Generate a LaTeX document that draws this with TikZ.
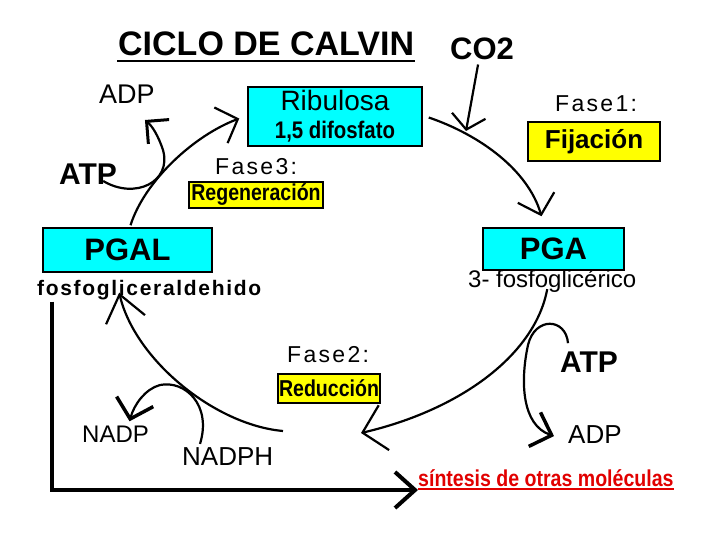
\documentclass[tikz,border=0pt]{standalone}
\usepackage{xcolor}
\usepackage{fontspec}
\setmainfont{Liberation Sans}
\newfontfamily\widefont[LetterSpace=10]{Liberation Sans}
\newfontfamily\spacedfont[LetterSpace=8]{Liberation Sans}
\newfontfamily\narrowfont[FakeStretch=0.85]{Liberation Sans}
\usepackage{tikz}
\usetikzlibrary{positioning,arrows.meta,calc}

\definecolor{boxcyan}{RGB}{0,255,255}
\definecolor{boxyellow}{RGB}{255,255,0}
\definecolor{redtext}{RGB}{225,0,0}

\begin{document}
\begin{tikzpicture}[
x=1pt, y=-1pt,
>={Straight Barb[length=18pt,width=38pt]},
cbox/.style={
draw,
line width=1.5pt,
fill=boxcyan,
inner sep=0pt,
align=center
},
ybox/.style={
draw,
line width=1.2pt,
fill=boxyellow,
inner sep=0pt,
align=center
},
txt/.style={
inner sep=0pt,
anchor=base west
},
ring/.style={
->,
line width=2.2pt
},
sidearc/.style={
->,
line width=2.2pt
}
]

\useasboundingbox (0,0) rectangle (720,540);

%%%%%%%%%%%%%%%%%%%%%%%%%%%%%%%%%%%%%%%%%%%%%
% Title
%%%%%%%%%%%%%%%%%%%%%%%%%%%%%%%%%%%%%%%%%%%%%

\node[txt, font=\fontsize{34}{38}\selectfont\bfseries] (title) at (118,56)
{CICLO DE CALVIN};

\draw[line width=2.5pt] ($(title.base west)+(-1,5)$) -- ($(title.base east)+(1,5)$);

\node[txt, font=\fontsize{31}{36}\selectfont\bfseries] (co2) at (450,60)
{CO2};

%%%%%%%%%%%%%%%%%%%%%%%%%%%%%%%%%%%%%%%%%%%%%
% Main Boxes
%%%%%%%%%%%%%%%%%%%%%%%%%%%%%%%%%%%%%%%%%%%%%

\node[cbox, minimum width=174pt, minimum height=59pt,
font=\narrowfont\fontsize{24}{28}\selectfont] (ribulosa) at (335,116.5)
{{\rmfamily\fontsize{28}{28}\selectfont Ribulosa}\\\textbf{1,5 difosfato}};

\node[cbox, minimum width=169pt, minimum height=44pt,
font=\fontsize{31}{36}\selectfont\bfseries] (pgal) at (127.5,250)
{PGAL};

\node[cbox, minimum width=141pt, minimum height=42pt,
font=\fontsize{31}{36}\selectfont\bfseries] (pga) at (553.5,249)
{PGA};

\node[txt, font=\spacedfont\fontsize{21}{24}\selectfont\bfseries] (fosfoald) at (37,295)
{fosfogliceraldehido};

\node[txt, font=\fontsize{24}{26}\selectfont] (fosfoglic) at (468,287)
{3- fosfoglicérico};

%%%%%%%%%%%%%%%%%%%%%%%%%%%%%%%%%%%%%%%%%%%%%
% Phases
%%%%%%%%%%%%%%%%%%%%%%%%%%%%%%%%%%%%%%%%%%%%%

\node[txt, font=\widefont\fontsize{23}{26}\selectfont] (fase1) at (555,112)
{Fase1:};

\node[ybox, minimum width=132pt, minimum height=39pt,
font=\fontsize{26}{30}\selectfont\bfseries] (fijacion) at (594,141.5)
{Fijación};

\node[txt, font=\widefont\fontsize{23}{26}\selectfont] (fase3) at (215,175)
{Fase3:};

\node[ybox, minimum width=134pt, minimum height=26pt,
font=\narrowfont\fontsize{23}{26}\selectfont\bfseries] (regen) at (256,195)
{Regeneración};

\node[txt, font=\widefont\fontsize{23}{26}\selectfont] (fase2) at (287,362)
{Fase2:};

\node[ybox, minimum width=102pt, minimum height=29pt,
font=\narrowfont\fontsize{23}{26}\selectfont\bfseries] (reduccion) at (329,388.5)
{Reducción};

%%%%%%%%%%%%%%%%%%%%%%%%%%%%%%%%%%%%%%%%%%%%%
% Cofactors
%%%%%%%%%%%%%%%%%%%%%%%%%%%%%%%%%%%%%%%%%%%%%

\node[txt, font=\fontsize{27}{30}\selectfont] (adpL) at (99,104) {ADP};
\node[txt, font=\fontsize{30}{34}\selectfont\bfseries] (atpL) at (59,185) {ATP};
\node[txt, font=\fontsize{30}{34}\selectfont\bfseries] (atpR) at (560,372) {ATP};
\node[txt, font=\fontsize{26}{30}\selectfont] (adpR) at (568,443) {ADP};
\node[txt, font=\fontsize{24}{28}\selectfont] (nadp) at (82,442) {NADP};
\node[txt, font=\fontsize{26}{30}\selectfont] (nadph) at (182,465) {NADPH};

\node[txt, text=redtext, font=\narrowfont\fontsize{23}{26}\selectfont\bfseries] (sintesis) at (418,486)
{síntesis de otras moléculas};

\draw[redtext, line width=1.8pt] ($(sintesis.base west)+(0,3)$) -- ($(sintesis.base east)+(0,3)$);

%%%%%%%%%%%%%%%%%%%%%%%%%%%%%%%%%%%%%%%%%%%%%
% Connections
%%%%%%%%%%%%%%%%%%%%%%%%%%%%%%%%%%%%%%%%%%%%%

\coordinate (co2tip) at (466,131);
\coordinate (redtip) at (361,433);
\coordinate (regstart) at (283,431);

\draw[ring, -{Straight Barb[length=14pt,width=34pt]}] ($(co2.south)+(-4,4)$) -- (co2tip);

\draw[ring] ($(ribulosa.east)+(6,1)$) .. controls (480,135) and (528,170) .. ($(pga.north)+(-12,-11)$);

\draw[ring, -{Straight Barb[length=22pt,width=46pt]}] ($(fosfoglic.south)+(-5,-3)$) .. controls (535,355) and (460,410) .. (redtip);

\draw[ring, -{Straight Barb[length=26pt,width=40pt]}] (regstart) .. controls (215,425) and (135,360) .. ($(fosfoald.south)+(-30,-7)$);

\draw[ring] ($(pgal.north)+(3,-2)$) .. controls (145,180) and (195,135) .. ($(ribulosa.west)+(-8,2)$);

\draw[sidearc, -{Straight Barb[length=16pt,width=32pt,line width=3pt]}] ($(atpL.base east)+(-14,-4)$) .. controls (135,200) and (172,182) .. (163,150) .. controls (158,135) and (152,126) .. ($(adpL.base)+(18,16)$);

\draw[sidearc, -{Straight Barb[length=18pt,width=38pt,line width=3.5pt]}] ($(nadph.north west)+(18,-3)$) .. controls (212,405) and (185,380) .. (160,385) .. controls (145,389) and (134,405) .. ($(nadp.north)+(14,-4)$);

\draw[sidearc, -{Straight Barb[length=18pt,width=36pt,line width=3.5pt]}] ($(atpR.north west)+(8,-8)$) .. controls (566,318) and (535,316) .. (528,345) .. controls (520,382) and (522,425) .. ($(adpR.west)+(-14,2)$);

\draw[line width=4pt, -{Straight Barb[length=20pt,width=36pt]}] ($(fosfoald.south west)+(15,2)$) |- ($(sintesis.base west)+(0,4)$);

\end{tikzpicture}
\end{document}
